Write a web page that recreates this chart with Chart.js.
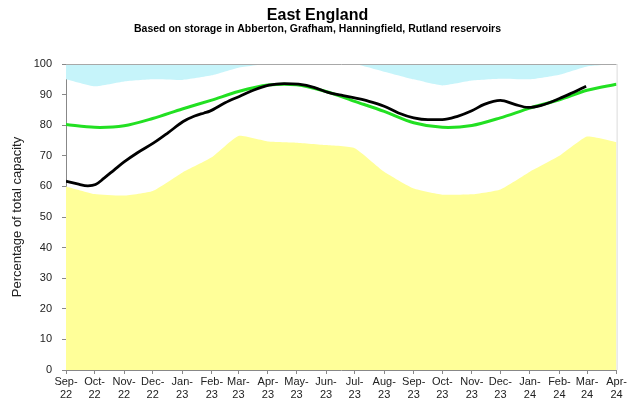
<!DOCTYPE html>
<html>
<head>
<meta charset="utf-8">
<title>East England reservoir storage</title>
<script src="https://cdn.jsdelivr.net/npm/chart.js@4.4.1/dist/chart.umd.min.js"></script>
<style>
  html, body { margin: 0; padding: 0; background: #ffffff; }
  #wrap { width: 629px; height: 406px; }
</style>
</head>
<body>
<div id="wrap"><canvas id="chart" width="629" height="406"></canvas></div>
<script>
// Month starts, counted in days from 1 Sep 2022
const monthDays = [0, 30, 61, 91, 122, 153, 181, 212, 242, 273, 303, 334, 365, 395, 426, 456, 487, 518, 547, 578];
const monthLabels = [
  ["Sep-", "22"], ["Oct-", "22"], ["Nov-", "22"], ["Dec-", "22"], ["Jan-", "23"], ["Feb-", "23"],
  ["Mar-", "23"], ["Apr-", "23"], ["May-", "23"], ["Jun-", "23"], ["Jul-", "23"], ["Aug-", "23"],
  ["Sep-", "23"], ["Oct-", "23"], ["Nov-", "23"], ["Dec-", "23"], ["Jan-", "24"], ["Feb-", "24"],
  ["Mar-", "24"], ["Apr-", "24"]
];

// Lower band (yellow area), % of capacity at each month start
const lowerBand = [60, 57.5, 57, 58.5, 64.5, 69.5, 76.5, 74.7, 74.3, 73.5, 72.5, 64.8,
                   59.3, 57.3, 57.4, 59, 64.8, 70, 76.3, 74.5];
// Upper band (cyan area reaches from this level up to 100%)
const upperBand = [95, 92.7, 94.3, 95, 94.8, 96.3, 98.8, 100, 100, 100, 100, 97.5,
                   95, 93, 94.6, 95.2, 95, 96.5, 99.2, 100];
// Long term average storage (green line)
const averageLevel = [80.2, 79.3, 79.8, 82.2, 85.3, 88.2, 91, 93.1, 93.2, 91, 87.8, 84.5,
                      80.8, 79.3, 79.9, 82.4, 85.6, 88.3, 91.4, 93.4];

// Actual storage (black line)
const storageDays = [0, 12, 23, 31, 40, 51, 61, 75, 92, 107, 123, 135, 145, 151, 167, 182, 198, 213,
                     229, 244, 261, 275, 289, 303, 318, 334, 349, 365, 380, 395, 411, 426, 439, 456,
                     471, 485, 499, 518, 531, 546];
const storageLevel = [61.7, 60.8, 60.2, 60.6, 62.7, 65.5, 68, 71, 74.2, 77.5, 81.2, 83, 84, 84.6, 87.3, 89.4, 91.6, 93.1,
                      93.6, 93.4, 92.3, 90.7, 89.8, 88.9, 87.8, 86.2, 84, 82.4, 81.8, 81.8, 82.9, 84.7, 86.8, 88.1,
                      86.8, 85.8, 86.5, 88.7, 90.5, 92.7];

const yTicks = [0, 10, 20, 30, 40, 50, 60, 70, 80, 90, 100];

const chartTitle = 'East England';
const chartSubtitle = 'Based on storage in Abberton, Grafham, Hanningfield, Rutland reservoirs';

const toPoints = (xs, ys) => xs.map((x, i) => ({ x: x, y: ys[i] }));

const FONT = "'Liberation Sans', Arial, Helvetica, sans-serif";

// Heading lines above the plot
const headings = {
  id: 'headings',
  afterDraw(chart) {
    const { ctx } = chart;
    ctx.save();
    ctx.fillStyle = '#000000';
    ctx.textAlign = 'center';
    ctx.textBaseline = 'alphabetic';
    ctx.font = 'bold 16px ' + FONT;
    ctx.fillText(chartTitle, 317.5, 19.5);
    ctx.font = 'bold 10.5px ' + FONT;
    ctx.fillText(chartSubtitle, 317.5, 32);
    ctx.restore();
  }
};

// Frame line along the top and right of the plot area
const plotFrame = {
  id: 'plotFrame',
  afterDatasetsDraw(chart) {
    const { ctx, chartArea: a } = chart;
    ctx.save();
    ctx.lineWidth = 1;
    ctx.strokeStyle = '#a8a8a8';
    ctx.beginPath();
    ctx.moveTo(a.left, a.top + 0.5);
    ctx.lineTo(a.right, a.top + 0.5);
    ctx.stroke();
    ctx.strokeStyle = '#dcdcdc';
    ctx.beginPath();
    ctx.moveTo(a.right + 0.5, a.top);
    ctx.lineTo(a.right + 0.5, a.bottom);
    ctx.stroke();
    ctx.restore();
  }
};

new Chart(document.getElementById('chart'), {
  type: 'line',
  data: {
    datasets: [
      {
        label: 'Storage',
        data: toPoints(storageDays, storageLevel),
        borderColor: '#000000',
        borderWidth: 2.8,
        pointRadius: 0,
        cubicInterpolationMode: 'monotone',
        fill: false,
        order: 0
      },
      {
        label: 'Average',
        data: toPoints(monthDays, averageLevel),
        borderColor: '#22e022',
        borderWidth: 3,
        pointRadius: 0,
        tension: 0.3,
        fill: false,
        order: 1
      },
      {
        label: 'Lower band',
        data: toPoints(monthDays, lowerBand),
        borderWidth: 0,
        borderColor: 'rgba(0,0,0,0)',
        backgroundColor: '#ffff99',
        pointRadius: 0,
        tension: 0.15,
        fill: 'origin',
        order: 2
      },
      {
        label: 'Upper band',
        data: toPoints(monthDays, upperBand),
        borderWidth: 0,
        borderColor: 'rgba(0,0,0,0)',
        backgroundColor: '#c6f4fa',
        pointRadius: 0,
        tension: 0.15,
        fill: 'end',
        order: 3
      }
    ]
  },
  options: {
    responsive: false,
    animation: false,
    events: [],
    layout: { padding: { left: 0, right: 12, top: 64, bottom: 0 } },
    plugins: {
      legend: { display: false },
      tooltip: { enabled: false },
      title: { display: false },
      subtitle: { display: false }
    },
    scales: {
      x: {
        type: 'linear',
        min: 0,
        max: 578,
        afterBuildTicks(scale) { scale.ticks = monthDays.map(v => ({ value: v })); },
        afterFit(scale) { scale.height = 36; },
        grid: { drawOnChartArea: false, drawTicks: true, tickLength: 4, color: '#888888' },
        border: { display: true, color: '#888888', width: 1 },
        ticks: {
          autoSkip: false,
          maxRotation: 0,
          minRotation: 0,
          padding: 2,
          color: '#222222',
          font: { family: FONT, size: 11, lineHeight: 1.15 },
          callback(value) {
            const i = monthDays.indexOf(value);
            return i >= 0 ? monthLabels[i] : '';
          }
        }
      },
      y: {
        type: 'linear',
        min: 0,
        max: 100,
        afterBuildTicks(scale) { scale.ticks = yTicks.map(v => ({ value: v })); },
        afterFit(scale) { scale.width = 66; },
        grid: { drawOnChartArea: false, drawTicks: true, tickLength: 4, color: '#888888' },
        border: { display: true, color: '#888888', width: 1 },
        ticks: {
          padding: 10,
          color: '#222222',
          font: { family: FONT, size: 11 }
        },
        title: {
          display: true,
          text: 'Percentage of total capacity',
          color: '#222222',
          font: { family: FONT, size: 13 },
          padding: { top: 10, bottom: 0 }
        }
      }
    }
  },
  plugins: [plotFrame, headings]
});
</script>
</body>
</html>
